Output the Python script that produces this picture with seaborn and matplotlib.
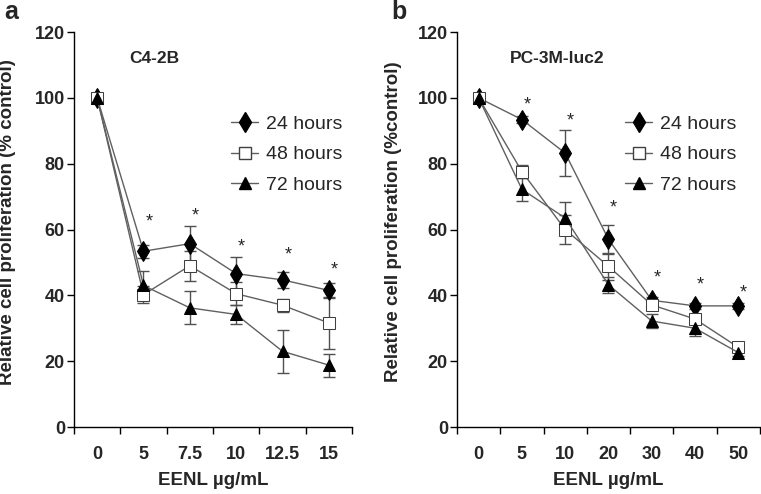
import numpy as np
import pandas as pd
import matplotlib
matplotlib.use('Agg')
import matplotlib.pyplot as plt
import seaborn as sns
from matplotlib.lines import Line2D

# Panel a: C4-2B
doses_a = ['0', '5', '7.5', '10', '12.5', '15']
a_24 = [100, 53.4, 55.7, 46.6, 44.7, 41.5]
a_24_err = [0, 2, 5.5, 5, 2.5, 2.3]
a_48 = [100, 40.2, 49, 40.5, 37, 31.6]
a_48_err = [0, 2.5, 4.5, 3.5, 2, 8]
a_72 = [100, 43, 36.2, 34.2, 23, 18.8]
a_72_err = [0, 4.5, 5, 3, 6.5, 3.5]
a_star = [None, 62.2, 64.2, 54.6, 52.4, 47.6]

# Panel b: PC-3M-luc2
doses_b = ['0', '5', '10', '20', '30', '40', '50']
b_24 = [100, 93.4, 83.2, 57, 38.5, 36.8, 36.8]
b_24_err = [0, 1, 7, 4.3, 1, 0.8, 0.8]
b_48 = [100, 77.6, 60, 48.8, 37.1, 32.8, 24.2]
b_48_err = [0, 2, 4.5, 4, 1.5, 1.5, 1]
b_72 = [100, 72.2, 63.5, 43.2, 32.2, 30, 22.6]
b_72_err = [0, 3.5, 5, 2.5, 2, 2.5, 1]
b_star = [None, 97.7, 93, 66.6, 45.3, 43, 40.7]

series = ['24 hours', '48 hours', '72 hours']
styles = {
    '24 hours': dict(marker='d', mfc='black', mec='black', ms=10),
    '48 hours': dict(marker='s', mfc='white', mec='#404040', ms=8),
    '72 hours': dict(marker='^', mfc='black', mec='black', ms=9),
}
line_col = '#606060'

sns.set_theme(style='white')
plt.rcParams['font.family'] = ['Liberation Sans', 'DejaVu Sans']

fig = plt.figure(figsize=(7.61, 4.94), dpi=100)
ax_a = fig.add_axes([0.0972, 0.1356, 0.3654, 0.7996])
ax_b = fig.add_axes([0.6005, 0.1356, 0.3982, 0.7996])


def draw_panel(ax, doses, vals, errs, stars, title, ylabel, title_x, leg_x):
    n = len(doses)
    for name, v, e in zip(series, vals, errs):
        df = pd.DataFrame({'pos': np.arange(n), 'val': v})
        ax.errorbar(df['pos'], df['val'], yerr=e, fmt='none', ecolor='#505050',
                    elinewidth=1, capsize=4, capthick=1, zorder=2)
        sns.lineplot(data=df, x='pos', y='val', ax=ax, color=line_col, lw=1,
                     zorder=3, **styles[name])
    for i, s in enumerate(stars):
        if s is not None:
            ax.text(i + 0.12, s, '*', ha='center', va='center', fontsize=13)

    ax.set_xlim(-0.5, n - 0.5)
    ax.set_ylim(0, 120)
    ax.set_yticks(range(0, 121, 20))
    ax.set_xticks(np.arange(n))
    ax.set_xticklabels(doses)
    ax.set_xticks(np.arange(n + 1) - 0.5, minor=True)
    ax.tick_params(axis='x', which='major', length=0, pad=14, labelsize=13)
    ax.tick_params(axis='x', which='minor', length=5, width=1, direction='out',
                   bottom=True, color='black')
    ax.tick_params(axis='y', length=5, width=1, direction='out', left=True,
                   pad=1.5, labelsize=13, color='black')
    for lab in ax.get_xticklabels() + ax.get_yticklabels():
        lab.set_fontweight('bold')
    for side in ['top', 'right']:
        ax.spines[side].set_visible(False)
    for side in ['left', 'bottom']:
        ax.spines[side].set_color('black')
        ax.spines[side].set_linewidth(1)

    ax.set_xlabel('EENL µg/mL', fontsize=13.5, fontweight='bold', labelpad=6)
    ax.set_ylabel(ylabel, fontsize=13.5, fontweight='bold')
    ax.text(title_x, 112, title, transform=ax.get_yaxis_transform(),
            fontsize=12.5, fontweight='bold', va='center', ha='left')

    handles = [Line2D([0], [0], color=line_col, lw=1, **styles[s]) for s in series]
    ax.legend(handles, series, loc='upper left', bbox_to_anchor=(leg_x, 0.79),
              frameon=False, fontsize=14, borderpad=0, borderaxespad=0,
              handlelength=1.4, handletextpad=0.4, labelspacing=0.68)


draw_panel(ax_a, doses_a, [a_24, a_48, a_72], [a_24_err, a_48_err, a_72_err],
           a_star, 'C4-2B', 'Relative cell proliferation (% control)', 0.20, 0.565)
draw_panel(ax_b, doses_b, [b_24, b_48, b_72], [b_24_err, b_48_err, b_72_err],
           b_star, 'PC-3M-luc2', 'Relative cell proliferation (%control)', 0.175, 0.555)

ax_a.yaxis.set_label_coords(-0.207, 0.52)
ax_b.yaxis.set_label_coords(-0.182, 0.52)

fig.text(0.006, 1.0, 'a', fontsize=18, fontweight='bold', va='top', ha='left')
fig.text(0.514, 1.0, 'b', fontsize=18, fontweight='bold', va='top', ha='left')

fig.savefig('out.png', dpi=100)
